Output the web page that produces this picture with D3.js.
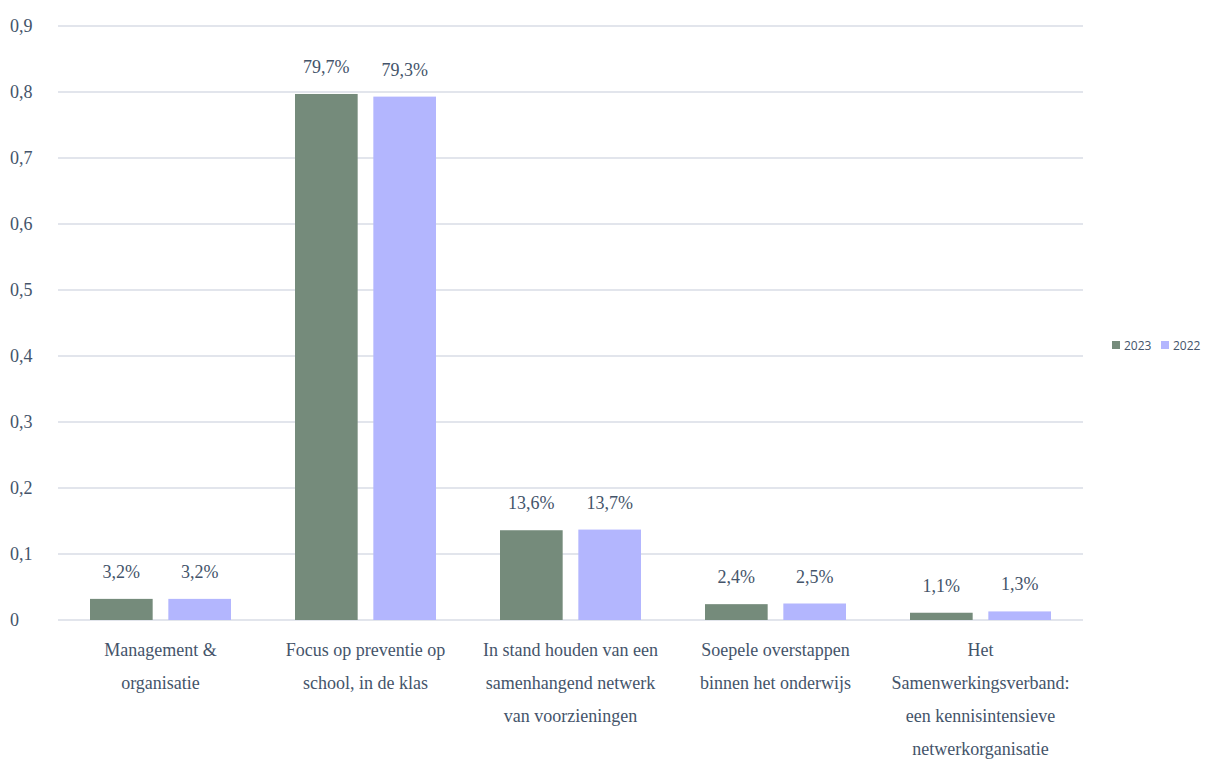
<!DOCTYPE html>
<html>
<head>
<meta charset="utf-8">
<script src="https://cdn.jsdelivr.net/npm/d3@7"></script>
<style>
  body { margin: 0; background: #fff; }
  svg { display: block; }
  .serif { font-family: 'Liberation Serif', 'Times New Roman', 'DejaVu Serif', serif; font-size: 18px; }
</style>
</head>
<body>
<svg id="chart"></svg>
<script>
const categories = [
  ['Management &', 'organisatie'],
  ['Focus op preventie op', 'school, in de klas'],
  ['In stand houden van een', 'samenhangend netwerk', 'van voorzieningen'],
  ['Soepele overstappen', 'binnen het onderwijs'],
  ['Het', 'Samenwerkingsverband:', 'een kennisintensieve', 'netwerkorganisatie']
];
const series = ['2023', '2022'];
const values2023 = [0.032, 0.797, 0.136, 0.024, 0.011];
const values2022 = [0.032, 0.793, 0.137, 0.025, 0.013];
const yTicks = [0, 0.1, 0.2, 0.3, 0.4, 0.5, 0.6, 0.7, 0.8, 0.9];

const colors = { '2023': '#758b7b', '2022': '#b3b6fe' };
const textColor = '#44546a';

const width = 1213, height = 765;
const margin = { top: 26, right: 130, bottom: 145, left: 58 };
const plotW = width - margin.left - margin.right;
const plotH = height - margin.top - margin.bottom;

const svg = d3.select('#chart').attr('width', width).attr('height', height);
const g = svg.append('g').attr('transform', `translate(${margin.left},${margin.top})`);

const x0 = d3.scaleBand().domain(d3.range(categories.length)).range([0, plotW]);
const x1 = d3.scaleBand().domain(series).range([32, x0.bandwidth() - 32]).paddingInner(0.2);
const y = d3.scaleLinear().domain([0, 0.9]).range([plotH, 0]);

// grid
g.selectAll('line.grid').data(yTicks).enter().append('line')
  .attr('x1', 0).attr('x2', plotW)
  .attr('y1', d => y(d)).attr('y2', d => y(d))
  .attr('stroke', '#d9dde6').attr('stroke-width', 1.3);

// y tick labels
svg.selectAll('text.ytick').data(yTicks).enter().append('text')
  .attr('class', 'serif')
  .attr('x', 10).attr('y', d => margin.top + y(d) + 6)
  .attr('fill', textColor)
  .text(d => d === 0 ? '0' : d3.format('.1f')(d).replace('.', ','));

const rows = categories.map((c, i) => ({ i, v: { '2023': values2023[i], '2022': values2022[i] } }));

const groups = g.selectAll('g.cat').data(rows).enter().append('g')
  .attr('transform', d => `translate(${x0(d.i)},0)`);

groups.selectAll('rect').data(d => series.map(s => ({ s, v: d.v[s] }))).enter().append('rect')
  .attr('x', d => x1(d.s)).attr('width', x1.bandwidth())
  .attr('y', d => y(d.v)).attr('height', d => plotH - y(d.v))
  .attr('fill', d => colors[d.s]);

groups.selectAll('text.lbl').data(d => series.map(s => ({ s, v: d.v[s] }))).enter().append('text')
  .attr('class', 'serif')
  .attr('x', d => x1(d.s) + x1.bandwidth() / 2).attr('y', d => y(d.v) - 21)
  .attr('text-anchor', 'middle').attr('fill', textColor)
  .text(d => d3.format('.1f')(d.v * 100).replace('.', ',') + '%');

// category labels
groups.append('text')
  .attr('class', 'serif')
  .attr('text-anchor', 'middle').attr('fill', textColor)
  .selectAll('tspan').data(d => categories[d.i]).enter().append('tspan')
  .attr('x', x0.bandwidth() / 2)
  .attr('y', (d, k) => plotH + 36 + k * 33)
  .text(d => d);

// legend
const legend = svg.append('g').attr('transform', 'translate(1112,345)');
series.forEach((s, k) => {
  const lg = legend.append('g').attr('transform', `translate(${k * 49},0)`);
  lg.append('rect').attr('x', 0).attr('y', -4).attr('width', 8).attr('height', 8).attr('fill', colors[s]);
  lg.append('text').attr('x', 12).attr('y', 4.5).attr('fill', textColor)
    .style('font-family', "'Open Sans', sans-serif").style('font-size', '12px').text(s);
});
</script>
</body>
</html>
